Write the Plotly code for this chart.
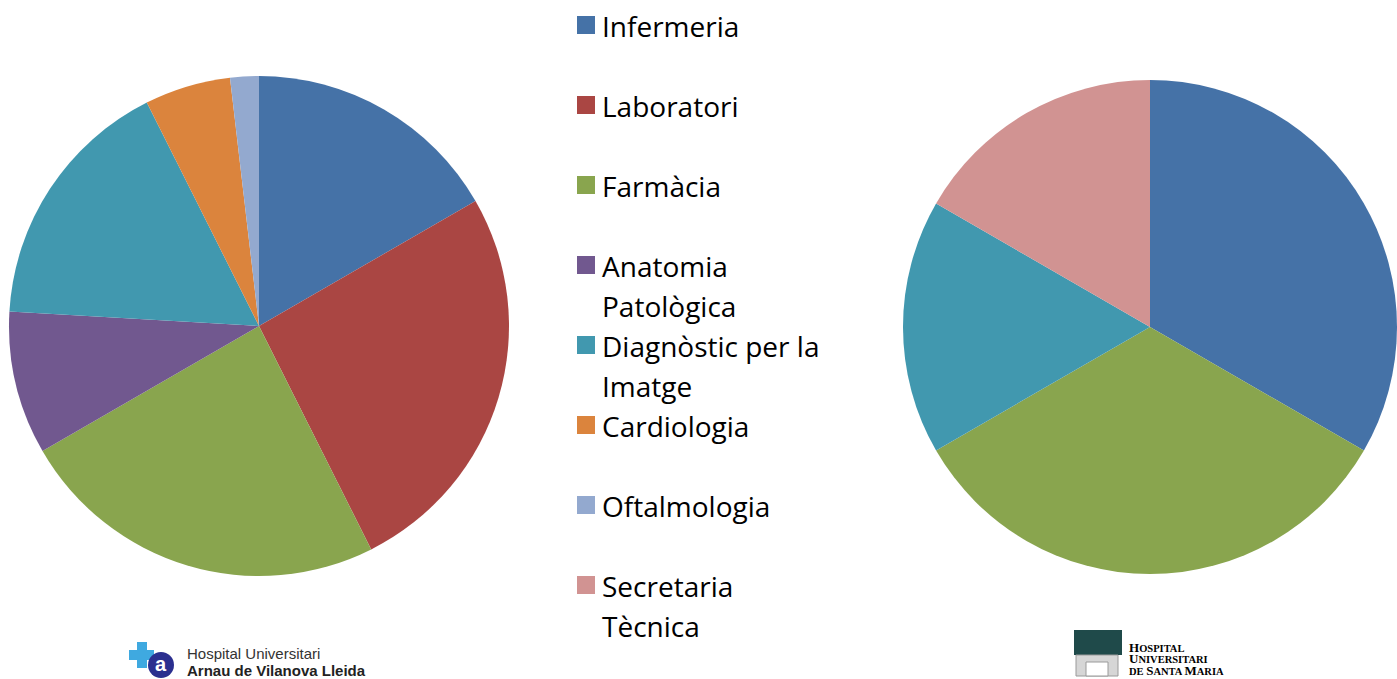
import plotly.graph_objects as go

W, H = 1397, 679

categories = ["Infermeria", "Laboratori", "Farmàcia", "Anatomia Patològica",
              "Diagnòstic per la Imatge", "Cardiologia", "Oftalmologia", "Secretaria Tècnica"]
legend_lines = [["Infermeria"], ["Laboratori"], ["Farmàcia"], ["Anatomia", "Patològica"],
                ["Diagnòstic per la", "Imatge"], ["Cardiologia"], ["Oftalmologia"],
                ["Secretaria", "Tècnica"]]
colors = ["#4572A7", "#AA4643", "#89A54E", "#71588F", "#4198AF", "#DB843D", "#93A9CF", "#D19392"]

arnau_values = [9, 14, 13, 5, 9, 3, 1, 0]
santa_maria_values = [2, 0, 2, 0, 1, 0, 0, 1]

FONT = "Open Sans"

def px_x(x):
    return x / W

def px_y(y):
    return 1 - y / H

fig = go.Figure()
fig.add_trace(go.Pie(
    labels=categories, values=arnau_values, sort=False, direction="clockwise", rotation=0,
    marker=dict(colors=colors, line=dict(width=0)), textinfo="none", hoverinfo="label+value+percent",
    domain=dict(x=[px_x(9), px_x(509)], y=[px_y(576), px_y(76)]), showlegend=False,
))
fig.add_trace(go.Pie(
    labels=categories, values=santa_maria_values, sort=False, direction="clockwise", rotation=0,
    marker=dict(colors=colors, line=dict(width=0)), textinfo="none", hoverinfo="label+value+percent",
    domain=dict(x=[px_x(903), 1.0], y=[px_y(577), px_y(77)]), showlegend=False,
))

shapes = []
annotations = []
# custom legend
for i, (lines, col) in enumerate(zip(legend_lines, colors)):
    yc = 25 + 80 * i
    shapes.append(dict(type="rect", xref="paper", yref="paper",
                       x0=px_x(577), x1=px_x(595), y0=px_y(yc + 9), y1=px_y(yc - 9),
                       fillcolor=col, line=dict(width=0)))
    for j, line in enumerate(lines):
        annotations.append(dict(xref="paper", yref="paper", x=px_x(600), y=px_y(yc + 1 + 40 * j),
                                xanchor="left", yanchor="middle", text=line, showarrow=False,
                                font=dict(family=FONT, size=28, color="#000000")))

# left logo (Hospital Universitari Arnau de Vilanova Lleida)
shapes += [
    dict(type="rect", xref="paper", yref="paper", x0=px_x(129), x1=px_x(154), y0=px_y(660), y1=px_y(650),
         fillcolor="#3FA9E0", line=dict(width=0)),
    dict(type="rect", xref="paper", yref="paper", x0=px_x(137), x1=px_x(147), y0=px_y(668), y1=px_y(642),
         fillcolor="#3FA9E0", line=dict(width=0)),
    dict(type="circle", xref="paper", yref="paper", x0=px_x(148), x1=px_x(174), y0=px_y(678), y1=px_y(652),
         fillcolor="#2B2F8F", line=dict(width=0)),
]
annotations += [
    dict(xref="paper", yref="paper", x=px_x(161), y=px_y(664), text="<b>a</b>", showarrow=False,
         xanchor="center", yanchor="middle", font=dict(family="Liberation Sans", size=20, color="#FFFFFF")),
    dict(xref="paper", yref="paper", x=px_x(185), y=px_y(653), text="Hospital Universitari", showarrow=False,
         xanchor="left", yanchor="middle", font=dict(family="Liberation Sans", size=15, color="#333333")),
    dict(xref="paper", yref="paper", x=px_x(185), y=px_y(670), text="<b>Arnau de Vilanova Lleida</b>",
         showarrow=False, xanchor="left", yanchor="middle",
         font=dict(family="Liberation Sans", size=15, color="#222222")),
]

# right logo (Hospital Universitari de Santa Maria)
shapes += [
    dict(type="rect", xref="paper", yref="paper", x0=px_x(1074), x1=px_x(1122), y0=px_y(655), y1=px_y(630),
         fillcolor="#1F4A4A", line=dict(width=0)),
    dict(type="rect", xref="paper", yref="paper", x0=px_x(1076), x1=px_x(1118), y0=px_y(676), y1=px_y(655),
         fillcolor="#D6D6D6", line=dict(color="#9A9A9A", width=1)),
    dict(type="rect", xref="paper", yref="paper", x0=px_x(1086), x1=px_x(1108), y0=px_y(676), y1=px_y(662),
         fillcolor="#FFFFFF", line=dict(color="#9A9A9A", width=1)),
]
sm_font = dict(family="Liberation Serif", size=10.5, color="#000000")
sm_lines = ["<b><span style='font-size:13px'>H</span>OSPITAL</b>",
            "<b><span style='font-size:13px'>U</span>NIVERSITARI</b>",
            "<b>DE <span style='font-size:13px'>S</span>ANTA <span style='font-size:13px'>M</span>ARIA</b>"]
for k, t in enumerate(sm_lines):
    annotations.append(dict(xref="paper", yref="paper", x=px_x(1127), y=px_y(647 + 11.5 * k), text=t,
                            showarrow=False, xanchor="left", yanchor="middle", font=sm_font))

fig.update_layout(
    width=W, height=H, margin=dict(l=0, r=0, t=0, b=0),
    paper_bgcolor="#FFFFFF", plot_bgcolor="#FFFFFF",
    shapes=shapes, annotations=annotations, showlegend=False,
)

fig.write_html("out.html", config={"displayModeBar": False},
               post_script="document.body.style.margin='0px';")
